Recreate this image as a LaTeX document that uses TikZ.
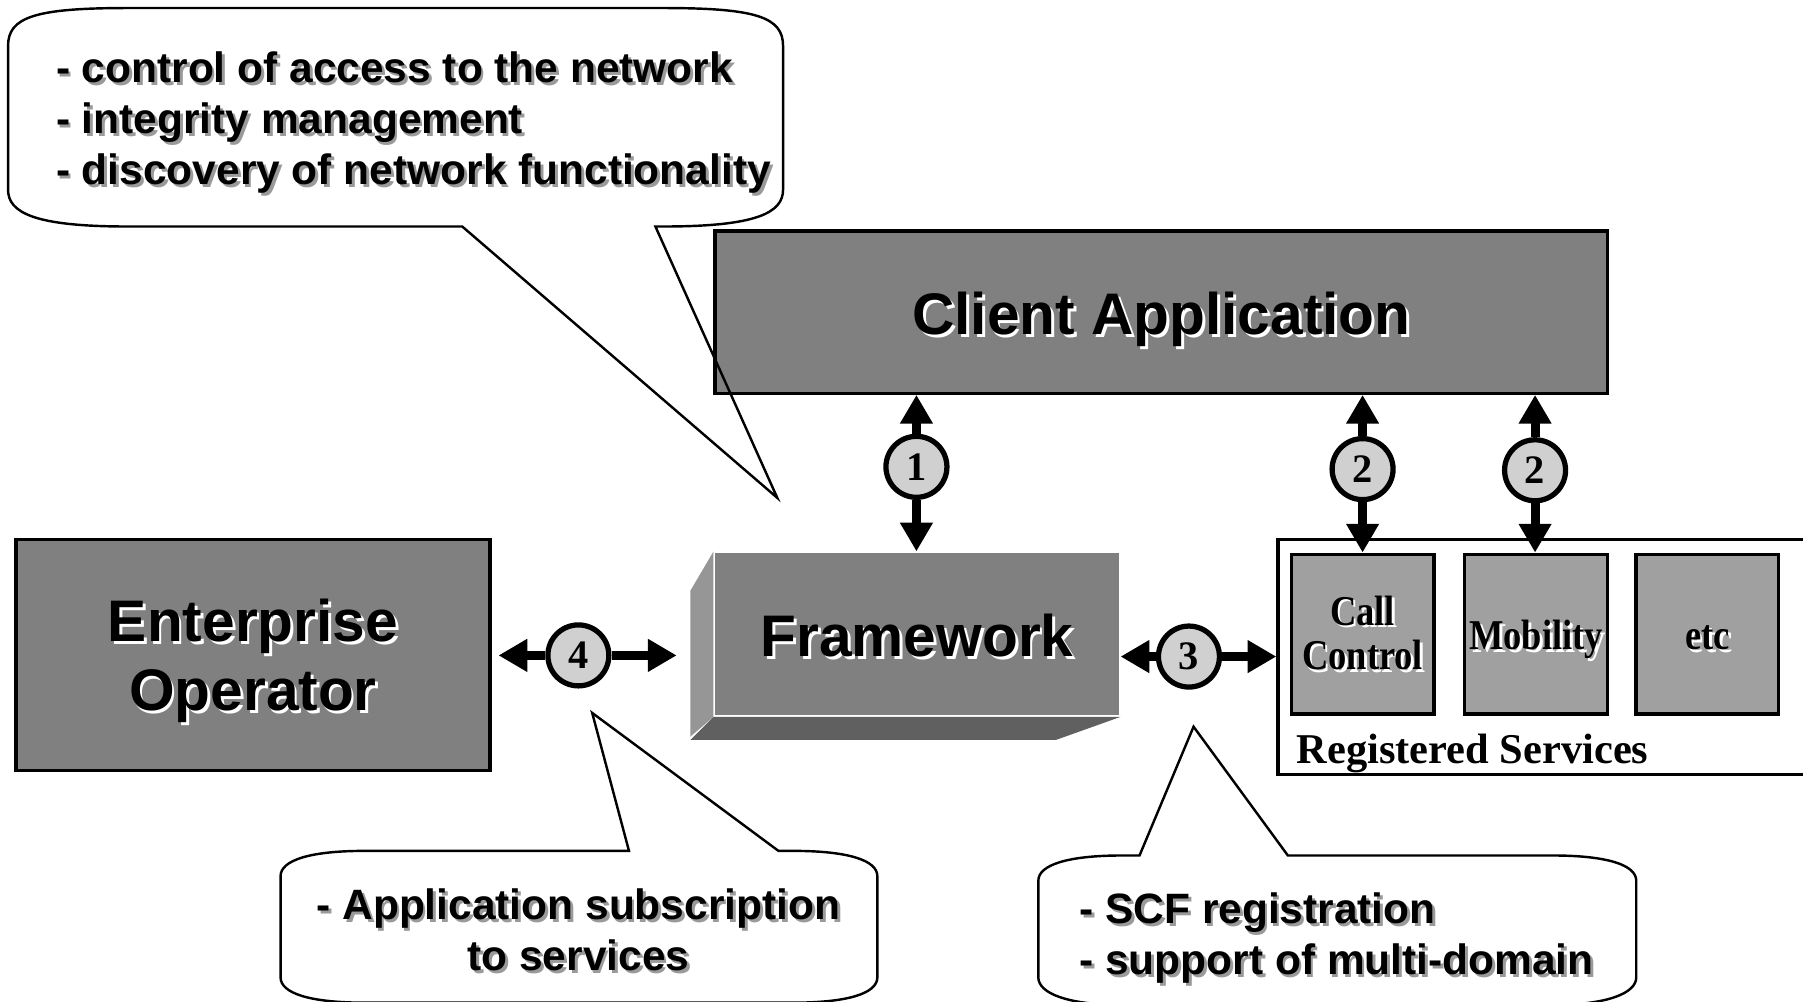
\documentclass[tikz,border=0pt]{standalone}
\usepackage{fontspec}
\setmainfont{Liberation Serif}
\setsansfont{Liberation Sans}
\newfontfamily\svcfont[FakeStretch=0.86]{Liberation Serif}
\usepackage{xcolor}
\usepackage{tikz}
\usetikzlibrary{positioning,calc,arrows.meta}

\definecolor{boxgray}{HTML}{808080}
\definecolor{sidegray}{HTML}{969696}
\definecolor{bottomgray}{HTML}{606060}
\definecolor{svcgray}{HTML}{A0A0A0}
\definecolor{numgray}{HTML}{D0D0D0}
\definecolor{shadegray}{HTML}{9A9A9A}

\newcommand{\shtext}[2]{\leavevmode\rlap{\kern0.7pt\raisebox{-0.7pt}{\textcolor{#1}{#2}}}#2}

\begin{document}
\begin{tikzpicture}[x=0.01cm, y=-0.01cm,
    bigbox/.style={draw, line width=0.8pt, fill=boxgray, align=center, inner sep=0pt,
        font=\sffamily\bfseries\fontsize{14.5}{17}\selectfont},
    svcbox/.style={draw, line width=0.8pt, fill=svcgray, align=center, inner sep=0pt,
        minimum width=1.24cm, minimum height=1.39cm,
        font=\svcfont\bfseries\fontsize{10.5}{11}\selectfont},
    num/.style={circle, draw, line width=1.3pt, fill=numgray, minimum size=0.53cm, inner sep=0pt,
        font=\bfseries\fontsize{10}{12}\selectfont},
    arr/.style={line width=2.2pt, -{Triangle[length=0.25cm, width=0.27cm]}},
    callout/.style={line width=0.6pt},
    calltext/.style={inner sep=0pt, font=\sffamily\bfseries\fontsize{10.5}{12.6}\selectfont}]
        \useasboundingbox (0,0) rectangle (1568,871);
        \clip (0,0) rectangle (1568,871);

        % Main boxes
        \node[bigbox, minimum width=7.76cm, minimum height=1.41cm, text height=0.39cm, text depth=0cm] (client) at (1010,271.5) {\shtext{white}{Client Application}};
        \node[bigbox, minimum width=4.12cm, minimum height=2.01cm] (enterprise) at (220,569.5) {\rule{0pt}{0.5cm}\shtext{white}{Enterprise}\\\shtext{white}{Operator}};
        \node[bigbox, draw=none, minimum width=3.51cm, minimum height=1.41cm, text height=0.39cm, text depth=0cm] (framework) at (797.5,551.5) {\shtext{white}{Framework}};
        \fill[sidegray] (framework.north west) -- ++(-20,34) -- ++(0,127) -- (framework.south west) -- cycle;
        \fill[bottomgray] (framework.south west) -- ++(-20,20) -- ++(318,0) -- (framework.south east) -- cycle;

        % Registered services
        \node[draw, line width=0.8pt, fill=white, minimum width=5.2cm, minimum height=2.04cm, anchor=north west] (regsvc) at (1110,468) {};
        \node[svcbox] (callctl) at (1185,551.5) {\shtext{white}{Call}\\\shtext{white}{Control}};
        \node[svcbox, right=0.24cm of callctl, text height=0.27cm, text depth=0cm] (mobility) {\shtext{white}{Mobility}};
        \node[svcbox, right=0.22cm of mobility, text height=0.27cm, text depth=0cm] (etc) {\shtext{white}{etc}};
        \node[anchor=base west, inner sep=0pt, font=\bfseries\fontsize{10.5}{12}\selectfont] (regtitle) at (1127,664) {Registered Services};

        % Numbered links
        \node[num] (n1) at (797,406) {1};
        \node[num] (n2a) at (1185,408) {2};
        \node[num] (n2b) at (1335,409) {2};
        \node[num] (n3) at (1034,571) {3};
        \node[num] (n4) at (503,570) {4};
        \draw[arr] (n1) -- (n1 |- client.south);
        \draw[arr] (n1) -- (n1 |- framework.north);
        \draw[arr] (n2a) -- (n2a |- client.south);
        \draw[arr] (n2a) -- (n2a |- callctl.north);
        \draw[arr] (n2b) -- (n2b |- client.south);
        \draw[arr] (n2b) -- (n2b |- mobility.north);
        \draw[arr] (n3) -- (n3 -| framework.east);
        \draw[arr] (n3) -- (n3 -| regsvc.west);
        \draw[arr, shorten >=0.06cm] (n4) -- (n4 -| enterprise.east);
        \draw[arr, shorten >=0.32cm] (n4) -- (n4 -| framework.west);

        % Callouts
        \draw[callout] (402,197) -- (676,433) -- (570,197) -- (577,197) .. controls (658,197) and (681,185) .. (681,165)
            -- (681,40) .. controls (681,15) and (658,7) .. (577,7) -- (111,7) .. controls (30,7) and (7,15) .. (7,40)
            -- (7,165) .. controls (7,185) and (30,197) .. (111,197) -- cycle;
        \node[calltext, anchor=west, align=left] (topnote) at (48,108) {\shtext{shadegray}{- control of access to the network}\\\shtext{shadegray}{- integrity management}\\\shtext{shadegray}{- discovery of network functionality}};

        \draw[callout] (547,740) -- (515,620) -- (677,740) -- (690,740) .. controls (737,740) and (763,748) .. (763,762)
            -- (763,850) .. controls (763,864) and (737,872) .. (690,872) -- (317,872) .. controls (270,872) and (244,864) .. (244,850)
            -- (244,762) .. controls (244,748) and (270,740) .. (317,740) -- cycle;
        \node[calltext, align=center] (subnote) at (503,810) {\shtext{shadegray}{- Application subscription}\\\shtext{shadegray}{to services}};

        \draw[callout] (991,744) -- (1038,632) -- (1120,744) -- (1350,744) .. controls (1397,744) and (1423,752) .. (1423,766)
            -- (1423,850) .. controls (1423,864) and (1397,874) .. (1350,874) -- (976,874) .. controls (929,874) and (903,864) .. (903,850)
            -- (903,766) .. controls (903,752) and (929,744) .. (976,744) -- cycle;
        \node[calltext, anchor=west, align=left] (scfnote) at (938,817) {\shtext{shadegray}{- SCF registration}\\\shtext{shadegray}{- support of multi-domain}};
    \end{tikzpicture}
\end{document}
